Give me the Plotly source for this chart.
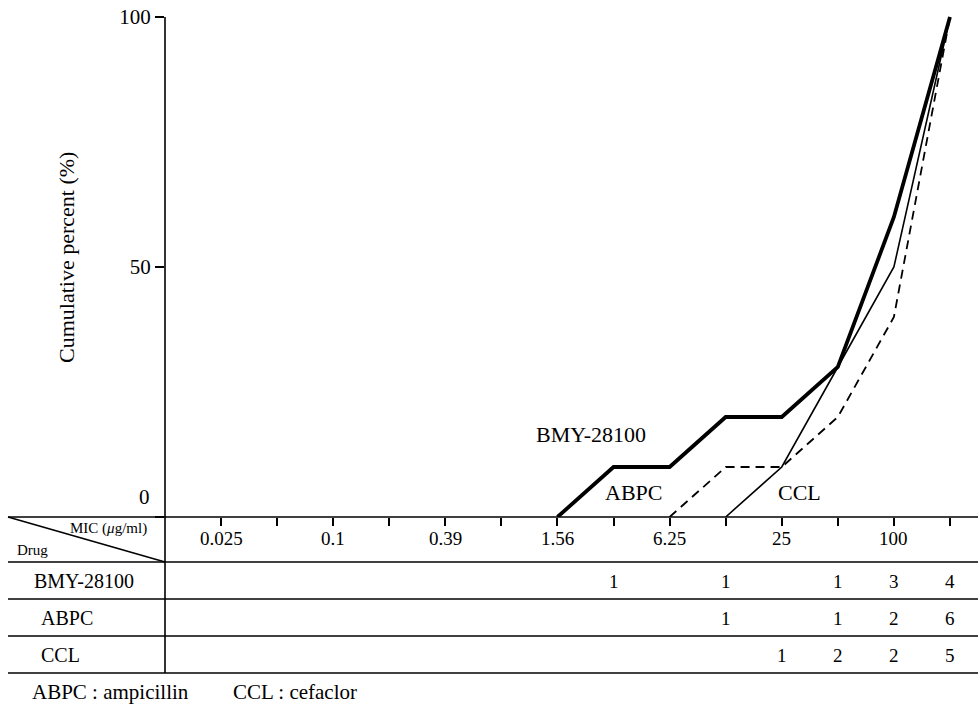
import plotly.graph_objects as go

# MIC dilution series (µg/ml) and the labels printed under the axis
mic_values = ["0.025", "0.05", "0.1", "0.2", "0.39", "0.78", "1.56",
              "3.13", "6.25", "12.5", "25", "50", "100", "200"]
tick_labels = ["0.025", "", "0.1", "", "0.39", "", "1.56",
               "", "6.25", "", "25", "", "100", ""]

drugs = ["BMY-28100", "ABPC", "CCL"]

# Number of strains inhibited at each MIC
bmy_counts = [0, 0, 0, 0, 0, 0, 0, 1, 0, 1, 0, 1, 3, 4]
abpc_counts = [0, 0, 0, 0, 0, 0, 0, 0, 0, 1, 0, 1, 2, 6]
ccl_counts = [0, 0, 0, 0, 0, 0, 0, 0, 0, 0, 1, 2, 2, 5]

# Cumulative percent of strains inhibited (None = curve not yet started)
bmy_cum = [None, None, None, None, None, None, 0, 10, 10, 20, 20, 30, 60, 100]
abpc_cum = [None, None, None, None, None, None, None, None, 0, 10, 10, 20, 40, 100]
ccl_cum = [None, None, None, None, None, None, None, None, None, 0, 10, 30, 50, 100]

FONT = "Liberation Serif"
W, H = 978, 708
L, R, T, B = 165, 0, 7, 191
PH = H - T - B
PW = W - L - R


def py(y_px):
    """Pixel row -> paper y."""
    return (H - B - y_px) / PH


def px(x_px):
    """Pixel column -> paper x."""
    return (x_px - L) / PW


idx = list(range(len(mic_values)))

fig = go.Figure()
fig.add_trace(go.Scatter(x=idx, y=bmy_cum, mode="lines", name="BMY-28100",
                         line=dict(color="black", width=3.8)))
fig.add_trace(go.Scatter(x=idx, y=abpc_cum, mode="lines", name="ABPC",
                         line=dict(color="black", width=1.8, dash="9px,6px")))
fig.add_trace(go.Scatter(x=idx, y=ccl_cum, mode="lines", name="CCL",
                         line=dict(color="black", width=1.6)))

line_style = dict(color="black", width=1.6)
shapes = []
# vertical axis running through the table
shapes.append(dict(type="line", xref="paper", yref="paper",
                   x0=0, x1=0, y0=py(17), y1=py(673), line=line_style))
# horizontal axis / top of table and the row separators
for y_px in [517, 562, 599, 636, 673]:
    shapes.append(dict(type="line", xref="paper", yref="paper",
                       x0=px(8), x1=1, y0=py(y_px), y1=py(y_px), line=line_style))
# diagonal in the header cell
shapes.append(dict(type="line", xref="paper", yref="paper",
                   x0=px(8), x1=0, y0=py(517), y1=py(562), line=line_style))

ann = []


def text(x, y, s, size, xanchor="center", xref="paper", **kw):
    ann.append(dict(x=x, y=y, xref=xref, yref="paper", text=s, showarrow=False,
                    xanchor=xanchor, yanchor="middle",
                    font=dict(family=FONT, size=size, color="black"), **kw))


# y-axis title and the zero label lifted above the table
text(px(66), py(258), "Cumulative percent (%)", 22, textangle=-90)
text(px(152), py(497), "0", 21, xanchor="right")

# MIC labels under the axis ticks
for i, lab in enumerate(tick_labels):
    if lab:
        text(i, py(538), lab, 19, xref="x")

# header cell
text(px(68), py(528), "MIC (<i>μ</i>g/ml)", 15, xanchor="left")
text(px(15), py(550), "Drug", 15, xanchor="left")

# row labels and counts
row_y = [581, 618, 655]
row_x = [32, 39, 39]
for name, counts, ry, rx in zip(drugs, [bmy_counts, abpc_counts, ccl_counts], row_y, row_x):
    text(px(rx), py(ry), name, 20, xanchor="left")
    for i, c in enumerate(counts):
        if c:
            text(i, py(ry), str(c), 19, xref="x")

# curve labels
text(px(591), py(434), "BMY-28100", 22)
text(px(633), py(492), "ABPC", 22)
text(px(799), py(492), "CCL", 22)

# footnote
text(px(30), py(692), "ABPC : ampicillin", 21, xanchor="left")
text(px(231), py(692), "CCL : cefaclor", 21, xanchor="left")

fig.update_layout(
    width=W, height=H,
    margin=dict(l=L, r=R, t=T, b=B),
    paper_bgcolor="white", plot_bgcolor="white",
    showlegend=False,
    font=dict(family=FONT, color="black"),
    shapes=shapes, annotations=ann,
    xaxis=dict(range=[-1, 13.5], tickvals=idx, ticktext=[""] * len(idx),
               ticks="outside", ticklen=8, tickwidth=1.5, tickcolor="black",
               showgrid=False, zeroline=False, showline=False),
    yaxis=dict(range=[0, 102], tickvals=[0, 50, 100], ticktext=["", "50", "100"],
               ticks="outside", ticklen=9, tickwidth=1.5, tickcolor="black",
               showgrid=False, zeroline=False, showline=False,
               tickfont=dict(family=FONT, size=21, color="black")),
)

fig.write_html("out.html")
